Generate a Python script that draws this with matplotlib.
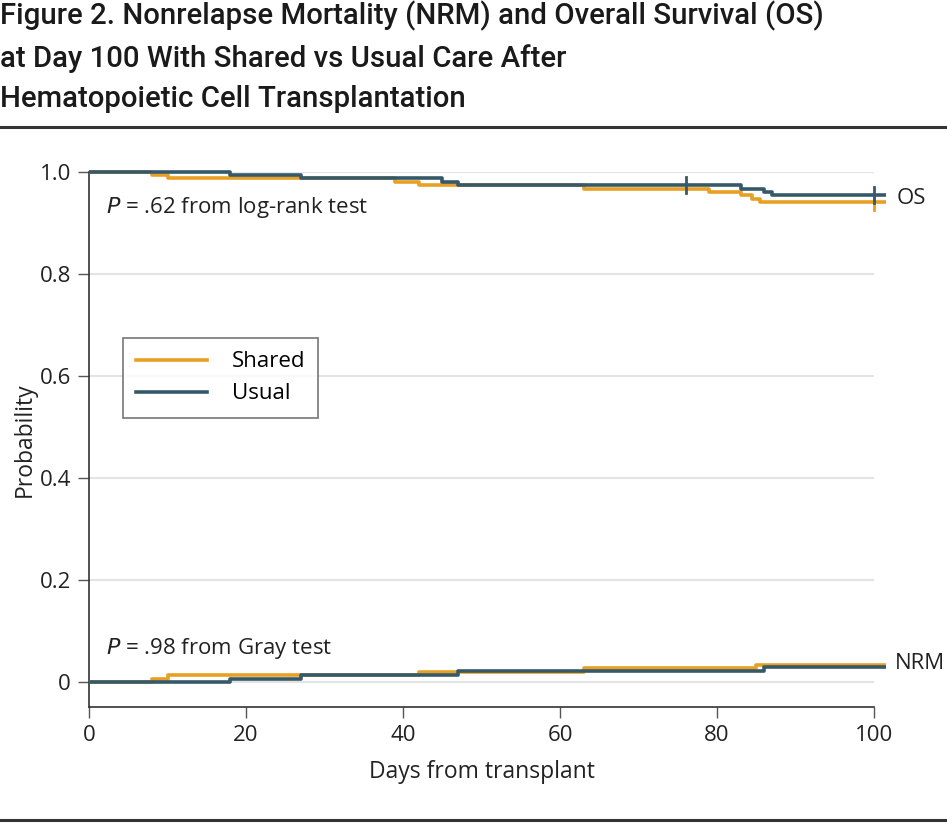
import numpy as np
import matplotlib.pyplot as plt
from matplotlib.lines import Line2D

plt.rcParams['font.family'] = ['Open Sans', 'DejaVu Sans']

# Days where the step changes, and the probability after each step
os_shared_t = [0, 8, 10, 39, 42, 63, 79, 83, 84.5, 85.5]
os_shared_p = [1.0, 0.994, 0.988, 0.981, 0.975, 0.968, 0.961, 0.955, 0.948, 0.942]
os_usual_t = [0, 18, 27, 45, 47, 83, 86, 87]
os_usual_p = [1.0, 0.994, 0.988, 0.981, 0.975, 0.967, 0.961, 0.955]

nrm_shared_t = [0, 8, 10, 42, 63, 85]
nrm_shared_p = [0, 0.005, 0.013, 0.020, 0.027, 0.034]
nrm_usual_t = [0, 18, 27, 47, 86]
nrm_usual_p = [0, 0.006, 0.014, 0.021, 0.029]

end_day = 101.5
os_usual_censor = [76, 100]
os_shared_censor = [100]

orange = '#E8A024'
teal = '#36596A'

fig = plt.figure(figsize=(9.47, 8.24), dpi=100)
ax = fig.add_axes([0.094, 0.142, 0.829, 0.649])


def step(t, p, color, z):
    ax.step(t + [end_day], p + [p[-1]], where='post', color=color, lw=2.6,
            zorder=z, clip_on=False, solid_capstyle='butt')


def value_at(t, p, d):
    return p[np.searchsorted(t, d, side='right') - 1]


step(os_shared_t, os_shared_p, orange, 3)
step(nrm_shared_t, nrm_shared_p, orange, 3)
step(os_usual_t, os_usual_p, teal, 4)
step(nrm_usual_t, nrm_usual_p, teal, 4)

for d in os_usual_censor:
    y = value_at(os_usual_t, os_usual_p, d)
    ax.plot([d, d], [y - 0.016, y + 0.016], color=teal, lw=2, zorder=5, clip_on=False)
for d in os_shared_censor:
    y = value_at(os_shared_t, os_shared_p, d)
    ax.plot([d, d], [y - 0.016, y + 0.008], color=orange, lw=2, zorder=4.5, clip_on=False)

ax.set_xlim(0, 100)
ax.set_ylim(-0.049, 1.0)
ax.set_xticks([0, 20, 40, 60, 80, 100])
ax.set_yticks([0, 0.2, 0.4, 0.6, 0.8, 1.0])
ax.set_yticklabels(['0', '0.2', '0.4', '0.6', '0.8', '1.0'])
ax.tick_params(labelsize=16, length=8, width=1, color='#555555', labelcolor='#222222', pad=5)
ax.grid(axis='y', color='#e3e3e3', lw=1.5, zorder=0)
ax.spines['top'].set_visible(False)
ax.spines['right'].set_visible(False)
for s in ['left', 'bottom']:
    ax.spines[s].set_color('#333333')
    ax.spines[s].set_linewidth(1.2)

ax.set_xlabel('Days from transplant', fontsize=16.5, color='#222222', labelpad=10)
ax.set_ylabel('Probability', fontsize=16.5, color='#222222', labelpad=2)

ax.text(2.2, 0.931, r'$\it{P}$ = .62 from log-rank test', fontsize=16, va='center', color='#222222')
ax.text(2.2, 0.065, r'$\it{P}$ = .98 from Gray test', fontsize=16, va='center', color='#222222')
ax.text(102.9, value_at(os_usual_t, os_usual_p, 100) - 0.006, 'OS', fontsize=16,
        va='center', color='#222222', clip_on=False)
ax.text(102.7, 0.037, 'NRM', fontsize=16, va='center', color='#222222', clip_on=False)

handles = [Line2D([], [], color=orange, lw=2.6), Line2D([], [], color=teal, lw=2.6)]
leg = ax.legend(handles, ['Shared', 'Usual'], loc='upper left', bbox_to_anchor=(0.043, 0.69),
                fontsize=16, frameon=True, fancybox=False, handlelength=3.2,
                borderpad=0.6, labelspacing=0.5, handletextpad=1.1, borderaxespad=0)
leg.get_frame().set_edgecolor('#555555')
leg.get_frame().set_linewidth(1.2)

title = ('Figure 2. Nonrelapse Mortality (NRM) and Overall Survival (OS)\n'
         'at Day 100 With Shared vs Usual Care After\n'
         'Hematopoietic Cell Transplantation')
fig.text(0.0, 0.999, title, fontsize=21.2, va='top', ha='left', color='#1a1a1a',
         family=['Roboto', 'DejaVu Sans'], fontweight='medium', linespacing=1.55)

fig.add_artist(Line2D([0, 1], [1 - 127 / 824, 1 - 127 / 824], color='#333333', lw=2.2))
fig.add_artist(Line2D([0, 1], [1 - 820 / 824, 1 - 820 / 824], color='#333333', lw=2.2))

fig.savefig('out.png', dpi=100)
